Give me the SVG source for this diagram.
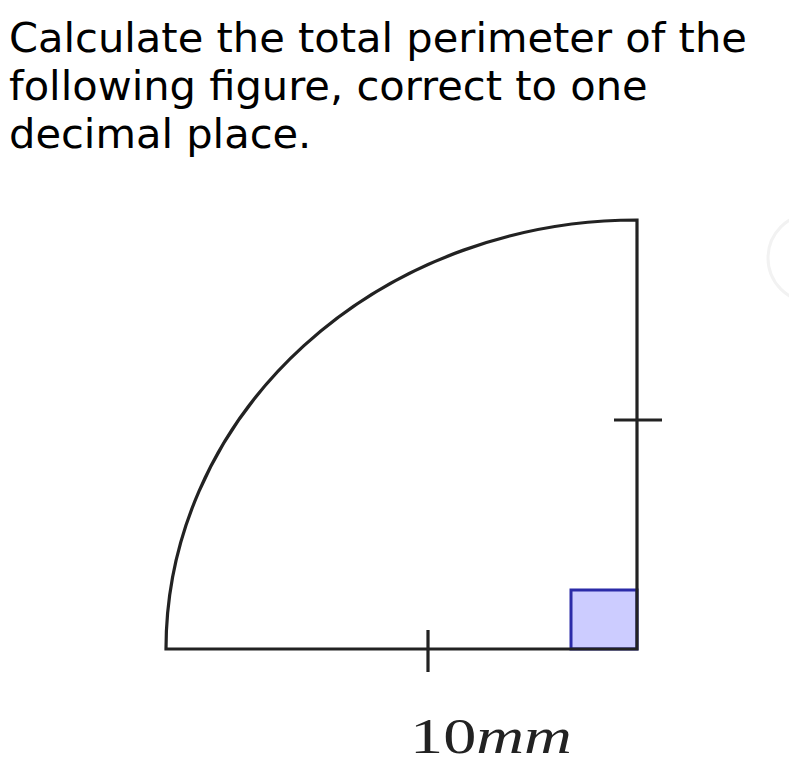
<svg xmlns="http://www.w3.org/2000/svg" width="789" height="773" viewBox="0 0 789 773">
<style>
.q{font-family:"DejaVu Sans",sans-serif;font-size:41.6px;fill:#000}
.ln{fill:none;stroke:#222;stroke-width:3.2;stroke-linecap:butt}
.lbl{font-family:"Liberation Serif","DejaVu Serif",serif;font-size:50px;fill:#222}
</style>
<rect width="789" height="773" fill="#fff"/>
<circle cx="812" cy="258" r="44" fill="none" stroke="#f2f2f2" stroke-width="3"/>
<g id="question">
<text class="q" x="9" y="52">Calculate the total perimeter of the</text>
<text class="q" x="9" y="100">following figure, correct to one</text>
<text class="q" x="9" y="148">decimal place.</text>
</g>
<g id="right-angle">
<rect x="571" y="590" width="66" height="59" fill="#ccccff" stroke="#2b2ba8" stroke-width="3"/>
</g>
<g id="figure">
<path class="ln" d="M166,649 A471,429 0 0 1 637,220 L637,649 Z"/>
<line class="ln" x1="428" y1="630" x2="428" y2="672"/>
<line class="ln" x1="614" y1="420" x2="662" y2="420"/>
</g>
<g id="label">
<text class="lbl" x="410" y="753" textLength="162" lengthAdjust="spacingAndGlyphs">10<tspan font-style="italic">mm</tspan></text>
</g>
</svg>
